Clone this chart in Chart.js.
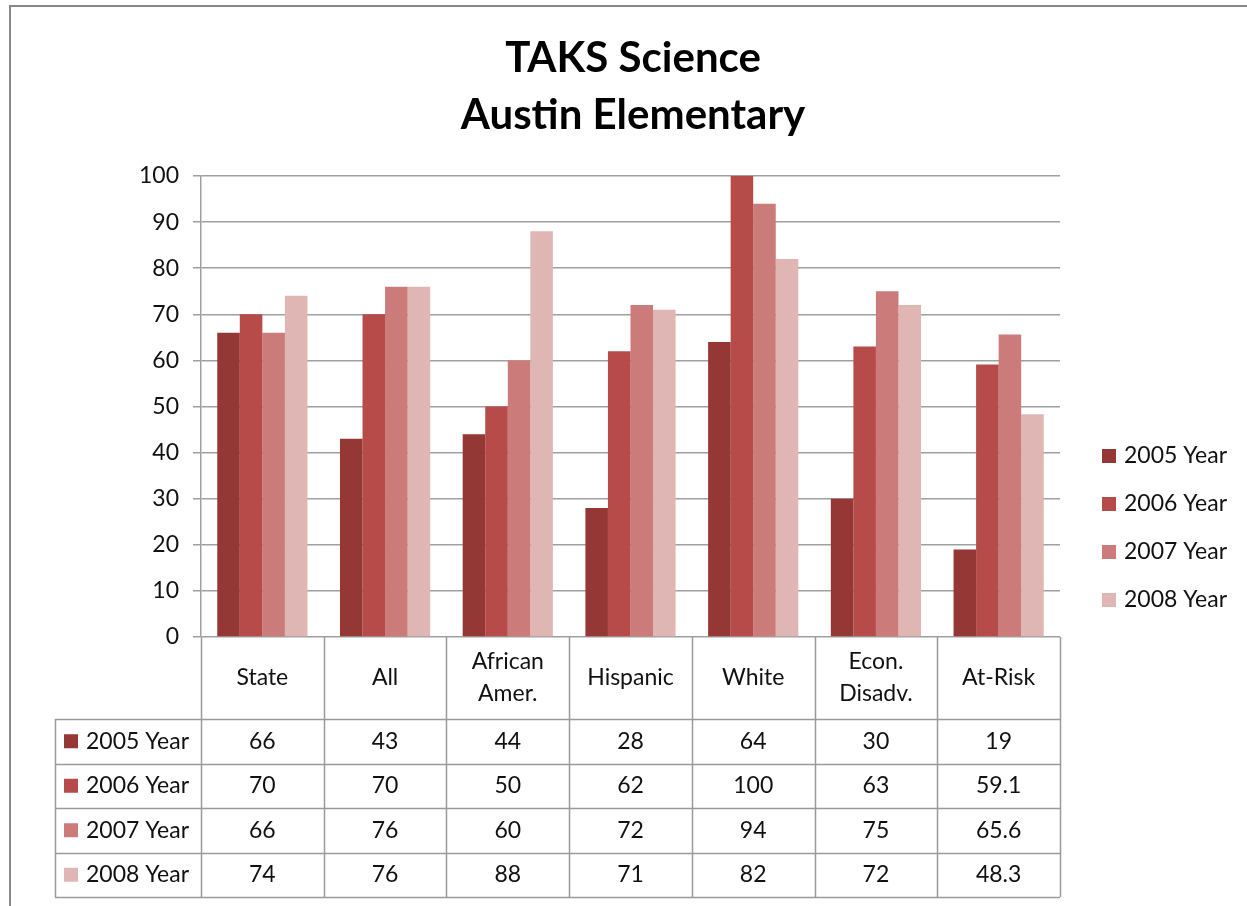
<!DOCTYPE html>
<html>
<head>
<meta charset="utf-8">
<script src="https://cdn.jsdelivr.net/npm/chart.js@4.4.1/dist/chart.umd.min.js"></script>
<style>
  html, body { margin: 0; padding: 0; background: #fff; }
  #wrap { position: absolute; left: 0; top: 0; width: 1247px; height: 906px; }
</style>
</head>
<body>
<div id="wrap"><canvas id="c"></canvas></div>
<script>
const titleLines = ["TAKS Science", "Austin Elementary"];
const categories = [["State"], ["All"], ["African", "Amer."], ["Hispanic"], ["White"], ["Econ.", "Disadv."], ["At-Risk"]];
const seriesNames = ["2005 Year", "2006 Year", "2007 Year", "2008 Year"];
const y2005 = [66, 43, 44, 28, 64, 30, 19];
const y2006 = [70, 70, 50, 62, 100, 63, 59.1];
const y2007 = [66, 76, 60, 72, 94, 75, 65.6];
const y2008 = [74, 76, 88, 71, 82, 72, 48.3];
const yTicks = [0, 10, 20, 30, 40, 50, 60, 70, 80, 90, 100];

const colors = ["#953735", "#B64B4A", "#CB7C7A", "#E0B6B5"];
const seriesValues = [y2005, y2006, y2007, y2008];
const FONT = "Lato, 'Open Sans', sans-serif";
const TEXT_COLOR = '#111';

const decorPlugin = {
  id: 'decor',
  beforeDraw(chart) {
    const ctx = chart.ctx;
    ctx.save();
    ctx.fillStyle = '#fff';
    ctx.fillRect(0, 0, chart.width, chart.height);
    ctx.strokeStyle = '#878787';
    ctx.lineWidth = 2;
    ctx.beginPath();
    ctx.moveTo(10, chart.height + 5);
    ctx.lineTo(10, 6);
    ctx.lineTo(chart.width + 5, 6);
    ctx.stroke();
    ctx.restore();
  },
  afterDraw(chart) {
    const ctx = chart.ctx;
    const x = chart.scales.x;
    const area = chart.chartArea;
    ctx.save();
    // Title
    ctx.fillStyle = '#000';
    ctx.textAlign = 'center';
    ctx.textBaseline = 'middle';
    ctx.font = "bold 42px " + FONT;
    const tcx = 633;
    titleLines.forEach((t, i) => ctx.fillText(t, tcx, 58 + i * 57));

    // Table
    const n = categories.length;
    const step = (area.right - area.left) / n;
    const bounds = [];
    for (let i = 0; i <= n; i++) bounds.push(area.left + i * step);
    const headerTop = area.bottom;
    const headerBottom = 719;
    const rowH = 44.5;
    const rowTops = [headerBottom];
    for (let r = 1; r <= seriesNames.length; r++) rowTops.push(headerBottom + r * rowH);
    const tableLeft = 55;
    const tableBottom = rowTops[rowTops.length - 1];

    ctx.strokeStyle = '#9A9A9A';
    ctx.lineWidth = 1.5;
    ctx.beginPath();
    bounds.forEach(bx => { ctx.moveTo(Math.round(bx) + 0.5, headerTop); ctx.lineTo(Math.round(bx) + 0.5, tableBottom); });
    ctx.moveTo(tableLeft + 0.5, headerBottom); ctx.lineTo(tableLeft + 0.5, tableBottom);
    rowTops.forEach(ry => { ctx.moveTo(tableLeft, Math.round(ry) + 0.5); ctx.lineTo(area.right, Math.round(ry) + 0.5); });
    ctx.stroke();

    ctx.fillStyle = TEXT_COLOR;
    ctx.font = "23px " + FONT;
    ctx.textAlign = 'center';
    ctx.textBaseline = 'middle';
    categories.forEach((lines, i) => {
      const cx = x.getPixelForValue(i);
      const cy = (headerTop + headerBottom) / 2;
      const lh = 32;
      lines.forEach((ln, j) => {
        ctx.fillText(ln, cx, cy + (j - (lines.length - 1) / 2) * lh);
      });
    });
    seriesNames.forEach((name, r) => {
      const cy = rowTops[r] + rowH / 2;
      ctx.fillStyle = colors[r];
      ctx.fillRect(64, cy - 7, 14, 14);
      ctx.fillStyle = TEXT_COLOR;
      ctx.textAlign = 'left';
      ctx.fillText(name, 86, cy);
      ctx.textAlign = 'center';
      seriesValues[r].forEach((v, i) => {
        ctx.fillText(String(v), x.getPixelForValue(i), cy);
      });
    });

    // Legend
    seriesNames.forEach((name, r) => {
      const cy = 456 + r * 48;
      ctx.fillStyle = colors[r];
      ctx.fillRect(1102, cy - 7, 14, 14);
      ctx.fillStyle = TEXT_COLOR;
      ctx.textAlign = 'left';
      ctx.fillText(name, 1124, cy);
    });
    ctx.restore();
  }
};

new Chart(document.getElementById('c'), {
  type: 'bar',
  data: {
    labels: categories.map(c => c.join(' ')),
    datasets: seriesNames.map((name, i) => ({
      label: name,
      data: seriesValues[i],
      backgroundColor: colors[i],
      borderWidth: 0,
      categoryPercentage: 0.735,
      barPercentage: 1.0
    }))
  },
  options: {
    responsive: true,
    maintainAspectRatio: false,
    animation: false,
    events: [],
    layout: { padding: { top: 176, right: 187, bottom: 269, left: 0 } },
    plugins: {
      legend: { display: false },
      title: { display: false },
      tooltip: { enabled: false }
    },
    scales: {
      x: {
        display: false,
        offset: true
      },
      y: {
        min: 0,
        max: 100,
        afterFit(scale) { scale.width = 201; },
        afterBuildTicks(scale) { scale.ticks = yTicks.map(v => ({ value: v })); },
        ticks: {
          font: { family: FONT, size: 23 },
          color: TEXT_COLOR,
          padding: 14
        },
        grid: {
          color: '#A0A0A0',
          lineWidth: 1.5,
          tickLength: 8,
          drawTicks: true
        },
        border: { display: true, color: '#A0A0A0', width: 1.5 }
      }
    }
  },
  plugins: [decorPlugin]
});
</script>
</body>
</html>
